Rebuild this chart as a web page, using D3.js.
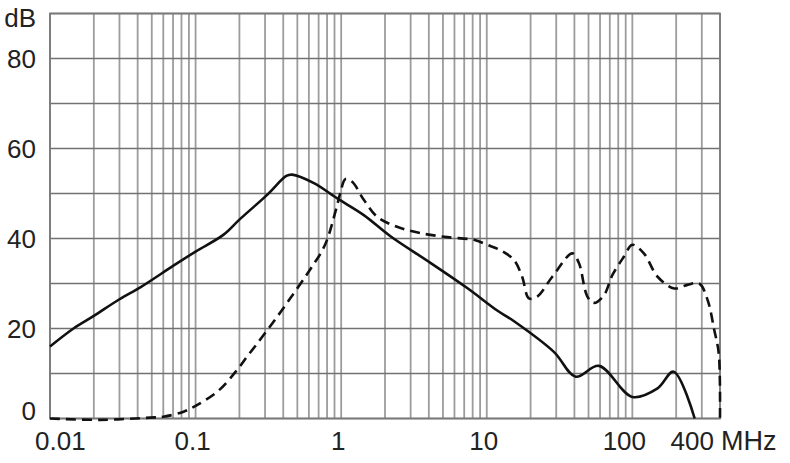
<!DOCTYPE html>
<html>
<head>
<meta charset="utf-8">
<script src="https://cdn.jsdelivr.net/npm/d3@7/dist/d3.min.js"></script>
<style>
  html, body { margin: 0; padding: 0; background: #fff; }
  svg { display: block; }
  text { font-family: "Liberation Sans", Arial, sans-serif; fill: #222; }
</style>
</head>
<body>
<script>
// ---- data (frequency in MHz, level in dB) ----
const xTickValues = [0.01, 0.1, 1, 10, 100, 400];
const xTickLabels = ["0.01", "0.1", "1", "10", "100", "400"];
const xUnit = "MHz";
const yTickValues = [0, 20, 40, 60, 80];
const yUnit = "dB";

const solidFreq = [0.01, 0.0145, 0.02, 0.03, 0.042, 0.07, 0.1, 0.155, 0.2, 0.31, 0.42, 0.46, 0.65, 0.94, 1.43, 2.18, 4.1, 7.34, 11.8, 15.4, 28.9, 40.8, 59, 100, 149, 192, 268];
const solidDb   = [16.0, 20.0, 22.8, 26.5, 29.2, 33.9, 37.1, 40.8, 44.2, 49.7, 53.9, 54.2, 52.3, 48.9, 45.2, 40.5, 34.6, 29.0, 24.0, 21.6, 14.8, 9.3, 11.7, 4.8, 6.7, 10.4, 0];

const dashFreq = [0.01, 0.022, 0.0487, 0.06, 0.0826, 0.105, 0.145, 0.195, 0.225, 0.264, 0.343, 0.447, 0.567, 0.647, 0.72, 0.80, 0.912, 0.987, 1.069, 1.19, 1.43, 1.77, 2.42, 3.5, 5.35, 8.15, 10.07, 12.4, 15.4, 17.5, 19.5, 22.2, 28.2, 38.7, 43.0, 49.1, 54.5, 63.8, 73, 87.7, 100, 120, 149, 194, 239, 288, 329, 365, 392, 400];
const dashDb   = [0, -0.3, 0.2, 0.4, 1.5, 3.2, 6.3, 11.0, 13.7, 16.6, 21.5, 26.7, 31.5, 34.3, 36.6, 39.7, 45.9, 50.1, 53.2, 52.6, 48.6, 44.8, 42.6, 41.2, 40.3, 39.7, 38.6, 37.4, 35.2, 31.5, 26.7, 27.1, 31.5, 36.7, 34.5, 27.1, 25.7, 27.4, 31.9, 36.0, 38.6, 36.7, 31.5, 28.9, 29.7, 30.0, 26.3, 19.7, 14.5, 0];

// ---- layout ----
const W = 790, H = 463;
const svg = d3.select("body").append("svg").attr("width", W).attr("height", H);

const x = d3.scaleLog().domain([0.01, 400]).range([50, 720]);
const y = d3.scaleLinear().domain([0, 90]).range([418.5, 13.5]);

// vertical grid: 1..9 per decade
const vGrid = [];
for (let e = -2; e <= 2; e++) {
  for (let m = 1; m <= 9; m++) {
    const v = m * Math.pow(10, e);
    if (v >= 0.01 && v <= 400 + 1e-9) vGrid.push(v);
  }
}
svg.append("g").selectAll("line").data(vGrid).join("line")
  .attr("x1", d => x(d)).attr("x2", d => x(d))
  .attr("y1", y(90)).attr("y2", y(0))
  .attr("stroke", "#9c9c9c").attr("stroke-width", 1.8);

// horizontal grid every 10 dB
const hGrid = d3.range(0, 91, 10);
svg.append("g").selectAll("line").data(hGrid).join("line")
  .attr("x1", x(0.01)).attr("x2", x(400))
  .attr("y1", d => y(d)).attr("y2", d => y(d))
  .attr("stroke", "#727272").attr("stroke-width", 1.7);

// frame
svg.append("rect")
  .attr("x", x(0.01)).attr("y", y(90))
  .attr("width", x(400) - x(0.01)).attr("height", y(0) - y(90))
  .attr("fill", "none").attr("stroke", "#7a7a7a").attr("stroke-width", 1.8);

// curves
const line = d3.line()
  .x(d => x(d[0])).y(d => y(d[1]))
  .curve(d3.curveCatmullRom.alpha(0.5));

const solidData = solidFreq.map((f, i) => [f, solidDb[i]]);
const dashData = dashFreq.map((f, i) => [f, dashDb[i]]);

svg.append("path").datum(dashData)
  .attr("d", line).attr("fill", "none")
  .attr("stroke", "#111").attr("stroke-width", 2.6)
  .attr("stroke-dasharray", "10,6");

svg.append("path").datum(solidData)
  .attr("d", line).attr("fill", "none")
  .attr("stroke", "#111").attr("stroke-width", 2.6)
  .attr("stroke-linejoin", "round");

// x tick labels
const fs = 26;
svg.append("g").selectAll("text").data(xTickValues).join("text")
  .attr("x", (d, i) => {
    if (i === 0) return x(d) - 15;
    if (i === xTickValues.length - 1) return x(d) - 6;
    if (d === 100) return x(d) - 8;
    return x(d) - 3;
  })
  .attr("y", 450)
  .attr("font-size", fs)
  .attr("text-anchor", (d, i) => i === 0 ? "start" : (i === xTickValues.length - 1 ? "end" : "middle"))
  .text((d, i) => xTickLabels[i]);

svg.append("text")
  .attr("x", x(400) + 1).attr("y", 450)
  .attr("font-size", 27).attr("text-anchor", "start")
  .text(xUnit);

// y tick labels
svg.append("g").selectAll("text").data(yTickValues).join("text")
  .attr("x", 36)
  .attr("y", d => y(d))
  .attr("dy", d => d === 0 ? "0.05em" : "0.36em")
  .attr("font-size", fs)
  .attr("text-anchor", "end")
  .text(d => d);

svg.append("text")
  .attr("x", 36).attr("y", y(90))
  .attr("dy", "0.52em")
  .attr("font-size", fs).attr("text-anchor", "end")
  .text(yUnit);
</script>
</body>
</html>
